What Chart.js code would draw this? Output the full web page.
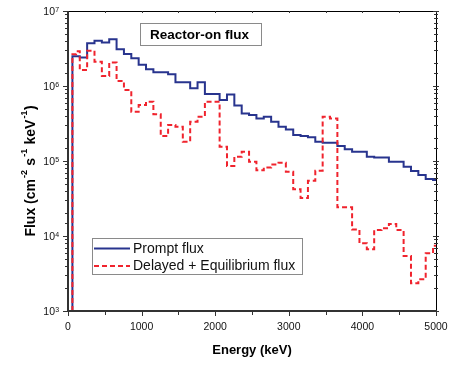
<!DOCTYPE html>
<html><head><meta charset="utf-8">
<script src="https://cdn.jsdelivr.net/npm/chart.js@4/dist/chart.umd.min.js"></script>
<style>html,body{margin:0;padding:0;background:#fff;}canvas{display:block;}</style>
</head><body>
<canvas id="c" width="469" height="367"></canvas>
<script>
// Bin lower edges (keV); last entry is the upper end of the final bin
const energyEdges = [60,110,160,260,360,460,560,660,760,860,960,1060,1160,1260,1360,1460,1560,1660,1760,1860,1960,2060,2160,2260,2360,2460,2560,2660,2760,2860,2960,3060,3160,3260,3360,3460,3560,3660,3760,3860,3960,4060,4160,4260,4360,4460,4560,4660,4760,4860,4960,5000];
// Prompt flux (cm^-2 s^-1 keV^-1) per bin
const promptFlux = [2.5e6,2.5e6,2.4e6,3.71e6,4.02e6,3.79e6,4.19e6,3.08e6,2.67e6,2.34e6,1.92e6,1.67e6,1.52e6,1.52e6,1.43e6,1.12e6,1.12e6,0.93e6,1.12e6,0.78e6,0.78e6,0.65e6,0.77e6,0.55e6,0.43e6,0.41e6,0.37e6,0.39e6,0.334e6,0.286e6,0.264e6,0.222e6,0.215e6,0.207e6,0.181e6,0.175e6,0.175e6,0.158e6,0.143e6,0.133e6,0.133e6,0.114e6,0.111e6,0.111e6,0.098e6,0.098e6,0.084e6,0.0736e6,0.065e6,0.0575e6,0.056e6];
// Delayed + Equilibrium flux per bin
const delayedFlux = [2.66e6,2.9e6,1.63e6,2.96e6,2.11e6,1.36e6,2.05e6,1.17e6,0.885e6,0.454e6,0.558e6,0.618e6,0.42e6,0.215e6,0.302e6,0.286e6,0.181e6,0.334e6,0.39e6,0.618e6,0.618e6,0.155e6,0.0858e6,0.114e6,0.133e6,0.098e6,0.075e6,0.082e6,0.09e6,0.095e6,0.072e6,0.042e6,0.032e6,0.0546e6,0.0743e6,0.39e6,0.37e6,0.0241e6,0.0241e6,0.0122e6,8.0e3,6.65e3,12.0e3,12.7e3,14.5e3,12.0e3,5.4e3,2.34e3,2.65e3,5.9e3,7.4e3];
const seriesNames = ['Prompt flux', 'Delayed + Equilibrium flux'];
const xTickLabels = [0,1000,2000,3000,4000,5000];
const yDecades = [1e3,1e4,1e5,1e6,1e7];
const chartTitle = 'Reactor-on flux';
const xTitle = 'Energy (keV)';

const Y_MIN = 1e3, Y_MAX = 1e7, X_MIN = 0, X_MAX = 5000;
const BLUE = '#28348e', RED = '#f0232d';
const FONT = "'Liberation Sans', Arial, sans-serif";

function stepPoints(vals) {
  const pts = [{x: energyEdges[0], y: Y_MIN}];
  vals.forEach((v, i) => pts.push({x: energyEdges[i], y: v}));
  pts.push({x: energyEdges[energyEdges.length - 1], y: vals[vals.length - 1]});
  return pts;
}

const decorPlugin = {
  id: 'decor',
  afterDraw(chart) {
    const ctx = chart.ctx, a = chart.chartArea;
    const xs = chart.scales.x, ys = chart.scales.y;
    ctx.save();
    // frame
    ctx.strokeStyle = '#000'; ctx.lineWidth = 1;
    ctx.beginPath();
    ctx.moveTo(a.left, a.top + 0.5); ctx.lineTo(a.right, a.top + 0.5);
    ctx.moveTo(a.right + 0.5, a.top); ctx.lineTo(a.right + 0.5, a.bottom);
    ctx.stroke();
    ctx.strokeStyle = '#333'; ctx.lineWidth = 2;
    ctx.beginPath();
    ctx.moveTo(a.left, a.top); ctx.lineTo(a.left, a.bottom + 1);
    ctx.moveTo(a.left - 1, a.bottom); ctx.lineTo(a.right + 1, a.bottom);
    ctx.stroke();
    // y ticks
    ctx.lineWidth = 1; ctx.strokeStyle = '#333';
    ctx.beginPath();
    ys.ticks.forEach(t => {
      const py = Math.round(ys.getPixelForValue(t.value)) + 0.5;
      const major = Math.abs(Math.log10(t.value) - Math.round(Math.log10(t.value))) < 1e-6;
      const l = major ? 5 : 3;
      ctx.moveTo(a.left - l, py); ctx.lineTo(a.left + 1, py);
      ctx.moveTo(a.right - (major ? 3 : 2), py); ctx.lineTo(a.right + (major ? 3 : 2), py);
    });
    // x ticks
    for (let v = X_MIN; v <= X_MAX; v += 500) {
      const px = Math.round(xs.getPixelForValue(v)) + 0.5;
      const major = v % 1000 === 0;
      ctx.moveTo(px, a.bottom); ctx.lineTo(px, a.bottom + (major ? 5 : 4));
      ctx.moveTo(px, a.top); ctx.lineTo(px, a.top + 2);
    }
    ctx.stroke();
    // y tick labels 10^n
    ctx.fillStyle = '#111';
    yDecades.forEach(v => {
      const py = ys.getPixelForValue(v);
      const e = String(Math.round(Math.log10(v)));
      ctx.font = '10.5px ' + FONT; ctx.textAlign = 'right'; ctx.textBaseline = 'middle';
      ctx.fillText('10', 55, py + 1.5);
      ctx.font = '7px ' + FONT; ctx.textAlign = 'left'; ctx.textBaseline = 'alphabetic';
      ctx.fillText(e, 55.3, py + 0.5);
    });
    // y axis title with superscripts
    const parts = [['Flux (cm', false], ['-2', true], [' s', false], ['-1', true], [' keV', false], ['-1', true], [')', false]];
    const fMain = 'bold 14px ' + FONT, fSup = 'bold 9px ' + FONT;
    let total = 0;
    const widths = parts.map(([t, s]) => { ctx.font = s ? fSup : fMain; const w = ctx.measureText(t).width + (s ? 1.5 : 0); total += w; return w; });
    ctx.save();
    ctx.translate(35, 171);
    ctx.rotate(-Math.PI / 2);
    ctx.textAlign = 'left'; ctx.textBaseline = 'alphabetic'; ctx.fillStyle = '#000';
    let xx = -total / 2;
    parts.forEach(([t, s], i) => {
      ctx.font = s ? fSup : fMain;
      ctx.fillText(t, xx + (s ? 1 : 0), s ? -8 : 0);
      xx += widths[i];
    });
    ctx.restore();
    // title box
    ctx.fillStyle = '#fff'; ctx.strokeStyle = '#8a8a8a'; ctx.lineWidth = 1;
    ctx.fillRect(140.5, 23.5, 121, 22); ctx.strokeRect(140.5, 23.5, 121, 22);
    ctx.fillStyle = '#000'; ctx.font = 'bold 13.5px ' + FONT; ctx.textAlign = 'center'; ctx.textBaseline = 'middle';
    ctx.fillText(chartTitle, 199.5, 35);
    // legend
    ctx.fillStyle = '#fff'; ctx.strokeStyle = '#8a8a8a';
    ctx.fillRect(92.5, 238.5, 210, 36); ctx.strokeRect(92.5, 238.5, 210, 36);
    const ds = chart.data.datasets;
    [[0, 248.5], [1, 266]].forEach(([k, ly]) => {
      const d = ds.find(q => q.label === seriesNames[k]);
      ctx.strokeStyle = d.borderColor; ctx.lineWidth = 2; ctx.setLineDash(d.borderDash || []);
      ctx.beginPath(); ctx.moveTo(94, ly); ctx.lineTo(130, ly); ctx.stroke();
      ctx.setLineDash([]);
      ctx.fillStyle = '#111'; ctx.font = '14px ' + FONT; ctx.textAlign = 'left'; ctx.textBaseline = 'middle';
      ctx.fillText(seriesNames[k], 133, ly + 0.5);
    });
    ctx.restore();
  }
};

new Chart(document.getElementById('c'), {
  type: 'line',
  data: {
    datasets: [
      {label: seriesNames[1], data: stepPoints(delayedFlux), borderColor: RED, borderWidth: 2, borderDash: [5, 3], stepped: true, pointRadius: 0, fill: false, order: 0},
      {label: seriesNames[0], data: stepPoints(promptFlux), borderColor: BLUE, borderWidth: 2, stepped: true, pointRadius: 0, fill: false, order: 1}
    ]
  },
  options: {
    responsive: false, animation: false, devicePixelRatio: 1,
    layout: {padding: {top: 11, right: 33, left: 0, bottom: 0}},
    plugins: {legend: {display: false}, tooltip: {enabled: false}, title: {display: false}},
    scales: {
      x: {
        type: 'linear', min: X_MIN, max: X_MAX,
        afterFit: s => { s.height = 56; },
        afterBuildTicks: s => { s.ticks = xTickLabels.map(v => ({value: v})); },
        grid: {display: false, drawTicks: false},
        border: {display: false},
        ticks: {font: {family: FONT, size: 10.5}, color: '#111', padding: 10, maxRotation: 0, autoSkip: false, callback: v => String(v)},
        title: {display: true, text: xTitle, font: {family: FONT, size: 13, weight: 'bold'}, color: '#000', padding: {top: 0, bottom: 9}}
      },
      y: {
        type: 'logarithmic', min: Y_MIN, max: Y_MAX,
        afterFit: s => { s.width = 68; },
        grid: {display: false, drawTicks: false},
        border: {display: false},
        ticks: {display: false}
      }
    }
  },
  plugins: [decorPlugin]
});
</script>
</body></html>
